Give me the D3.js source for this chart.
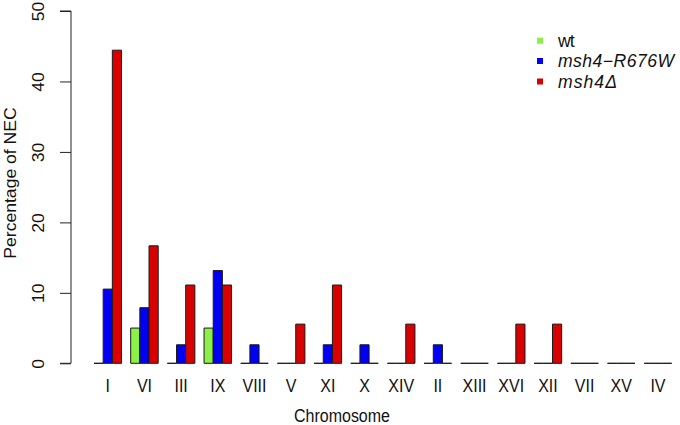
<!DOCTYPE html>
<html>
<head>
<meta charset="utf-8">
<script src="https://cdn.jsdelivr.net/npm/d3@7"></script>
<style>
  html, body { margin: 0; padding: 0; background: #fff; }
  svg { display: block; font-family: "Liberation Sans", Arial, sans-serif; }
</style>
</head>
<body>
<svg id="chart" width="680" height="425"></svg>
<script>
const chromosomes = ["I","VI","III","IX","VIII","V","XI","X","XIV","II","XIII","XVI","XII","VII","XV","IV"];
const seriesNames = ["wt", "msh4\u2212R676W", "msh4\u0394"];
const wtValues    = [0, 5, 0, 5, 0, 0, 0, 0, 0, 0, 0, 0, 0, 0, 0, 0];
const mutValues   = [10.53, 7.89, 2.63, 13.16, 2.63, 0, 2.63, 2.63, 0, 2.63, 0, 0, 0, 0, 0, 0];
const delValues   = [44.44, 16.67, 11.11, 11.11, 0, 5.56, 11.11, 0, 5.56, 0, 0, 5.56, 5.56, 0, 0, 0];
const seriesColors = ["#8cf046", "#0000f2", "#d90000"];
const yTicks = [0, 10, 20, 30, 40, 50];

const series = [wtValues, mutValues, delValues];
const svg = d3.select("#chart");
const FS = 17.6, SX = 0.909;

// R barplot(beside=TRUE) units: group g, bar j occupies [1+4g+j, 2+4g+j]
const x = d3.scaleLinear().domain([1, 64]).range([94, 671.7]);
const y = d3.scaleLinear().domain([0, 50]).range([363.3, 11]);

const bars = [];
chromosomes.forEach((c, g) => {
  series.forEach((vals, j) => {
    bars.push({g, j, v: vals[g]});
  });
});

svg.append("g").selectAll("path")
  .data(bars)
  .enter().append("path")
  .attr("d", d => {
    const x0 = x(1 + 4*d.g + d.j), x1 = x(2 + 4*d.g + d.j);
    const y0 = y(0), y1 = y(d.v);
    return `M${x0},${y0}H${x1}V${y1}H${x0}Z`;
  })
  .attr("fill", d => seriesColors[d.j])
  .attr("stroke", "#1a1a1a")
  .attr("stroke-width", 1);

// Y axis
const yAxis = d3.axisLeft(y).tickValues(yTicks).tickSize(11).tickPadding(0).tickFormat(d3.format("d"));
const ya = svg.append("g").attr("transform", "translate(71,0)").call(yAxis);
ya.select(".domain").attr("d", `M-11,${y(0)}H0V${y(50)}H-11`).attr("stroke", "#222");
ya.selectAll(".tick line").attr("stroke", "#222");
ya.selectAll(".tick text")
  .attr("x", null).attr("dy", null)
  .attr("transform", `translate(-32.5,0) scale(${SX},1) rotate(-90)`)
  .attr("text-anchor", "middle")
  .attr("dominant-baseline", "central")
  .attr("font-size", FS)
  .attr("font-family", "Liberation Sans, Arial, sans-serif")
  .attr("fill", "#111");

// X tick labels (no axis line)
svg.append("g").selectAll("text")
  .data(chromosomes)
  .enter().append("text")
  .attr("transform", (d, g) => `translate(${x(1 + 4*g + 1.5)},392) scale(${SX},1)`)
  .attr("text-anchor", "middle")
  .attr("font-size", FS)
  .attr("fill", "#111")
  .text(d => d);

// Axis titles
svg.append("text")
  .attr("transform", `translate(342,421.5) scale(${SX},1)`)
  .attr("text-anchor", "middle")
  .attr("font-size", FS)
  .attr("fill", "#111")
  .text("Chromosome");

svg.append("text")
  .attr("transform", `translate(15.5,183) scale(${SX},1) rotate(-90)`)
  .attr("text-anchor", "middle")
  .attr("font-size", FS)
  .attr("fill", "#111")
  .text("Percentage of NEC");

// Legend
const legendY = [40.7, 61, 81.5];
const legendLen = [16.7, 116, 59];
const lg = svg.append("g");
seriesNames.forEach((name, i) => {
  lg.append("rect")
    .attr("x", 537).attr("y", legendY[i] - 3)
    .attr("width", 6).attr("height", 6)
    .attr("fill", seriesColors[i]);
  lg.append("text")
    .attr("x", 558).attr("y", legendY[i])
    .attr("dominant-baseline", "central")
    .attr("font-size", FS)
    .attr("font-style", i === 0 ? "normal" : "italic")
    .attr("textLength", legendLen[i])
    .attr("lengthAdjust", "spacing")
    .attr("fill", "#111")
    .text(name);
});
</script>
</body>
</html>
